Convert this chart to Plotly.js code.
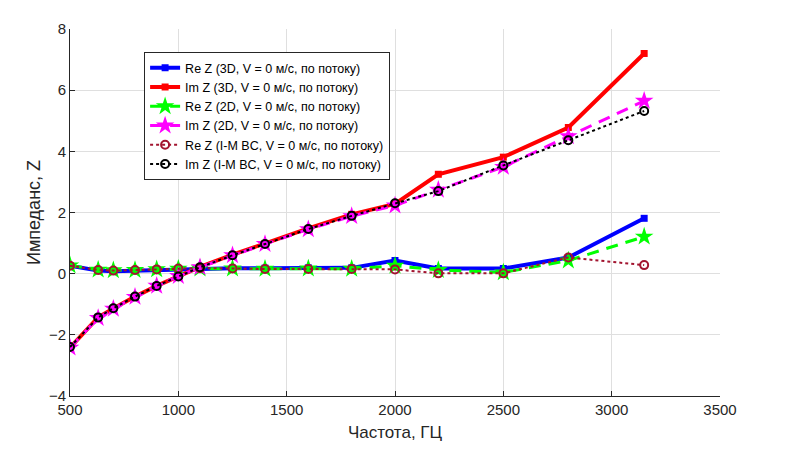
<!DOCTYPE html>
<html>
<head>
<meta charset="utf-8">
<script src="https://cdn.plot.ly/plotly-3.0.1.min.js"></script>
<style>html,body{margin:0;padding:0;background:#fff;}#chart{width:791px;height:454px;}</style>
</head>
<body>
<div id="chart"></div>
<script>
const freq = [500, 630, 700, 800, 900, 1000, 1100, 1250, 1400, 1600, 1800, 2000, 2200, 2500, 2800, 3150];
const reZ3D = [0.26, 0.10, 0.08, 0.10, 0.12, 0.15, 0.17, 0.18, 0.18, 0.19, 0.19, 0.43, 0.17, 0.17, 0.53, 1.81];
const imZ3D = [-2.42, -1.43, -1.14, -0.75, -0.40, -0.08, 0.22, 0.62, 0.99, 1.48, 1.94, 2.28, 3.25, 3.81, 4.78, 7.20];
const reZ2D = [0.27, 0.13, 0.11, 0.12, 0.14, 0.16, 0.17, 0.17, 0.16, 0.17, 0.16, 0.26, 0.12, 0.04, 0.43, 1.21];
const imZ2D = [-2.42, -1.45, -1.15, -0.76, -0.40, -0.08, 0.21, 0.60, 0.97, 1.45, 1.88, 2.23, 2.74, 3.49, 4.49, 5.65];
const reZIM = [0.26, 0.12, 0.10, 0.12, 0.14, 0.17, 0.18, 0.17, 0.15, 0.15, 0.15, 0.14, 0.01, 0.01, 0.53, 0.28];
const imZIM = [-2.40, -1.43, -1.13, -0.75, -0.40, -0.09, 0.21, 0.60, 0.97, 1.46, 1.89, 2.30, 2.70, 3.54, 4.36, 5.32];

const names = [
  'Re Z (3D, V = 0 м/с, по потоку)',
  'Im Z (3D, V = 0 м/с, по потоку)',
  'Re Z (2D, V = 0 м/с, по потоку)',
  'Im Z (2D, V = 0 м/с, по потоку)',
  'Re Z (I-M BC, V = 0 м/с, по потоку)',
  'Im Z (I-M BC, V = 0 м/с, по потоку)'
];

const traces = [
  {x: freq, y: reZ3D, name: names[0], mode: 'lines+markers',
   line: {color: '#0000ff', width: 4}, marker: {symbol: 'square', size: 7, color: '#0000ff'}},
  {x: freq, y: imZ3D, name: names[1], mode: 'lines+markers',
   line: {color: '#ff0000', width: 4}, marker: {symbol: 'square', size: 7, color: '#ff0000'}},
  {x: freq, y: reZ2D, name: names[2], mode: 'lines+markers',
   line: {color: '#00ff00', width: 3, dash: '12px,8px'}, marker: {symbol: 'star', size: 14, color: '#00ff00'}},
  {x: freq, y: imZ2D, name: names[3], mode: 'lines+markers',
   line: {color: '#ff00ff', width: 3, dash: '12px,8px'}, marker: {symbol: 'star', size: 14, color: '#ff00ff'}},
  {x: freq, y: reZIM, name: names[4], mode: 'lines+markers',
   line: {color: '#a2142f', width: 2, dash: 'dot'}, marker: {symbol: 'circle-open', size: 8, color: '#a2142f', line: {width: 2, color: '#a2142f'}}},
  {x: freq, y: imZIM, name: names[5], mode: 'lines+markers',
   line: {color: '#000000', width: 2, dash: 'dot'}, marker: {symbol: 'circle-open', size: 8, color: '#000000', line: {width: 2, color: '#000000'}}}
];

const fam = 'Liberation Sans, Arial, sans-serif';
const axisFont = {family: fam, size: 15, color: '#262626'};

const layout = {
  width: 791, height: 454,
  margin: {l: 70, r: 71, t: 29, b: 58},
  paper_bgcolor: '#ffffff', plot_bgcolor: '#ffffff',
  font: {family: fam, color: '#262626'},
  showlegend: true,
  legend: {
    x: 0.114, y: 0.937, xanchor: 'left', yanchor: 'top',
    bgcolor: '#ffffff', bordercolor: '#262626', borderwidth: 1,
    font: {family: fam, size: 12.5, color: '#000000'},
    itemwidth: 30, tracegroupgap: 0
  },
  xaxis: {
    range: [500, 3500], dtick: 500, tick0: 500,
    showline: true, linecolor: '#262626', linewidth: 1,
    ticks: 'inside', ticklen: 5, tickcolor: '#262626',
    showgrid: true, gridcolor: '#dfdfdf', zeroline: false,
    tickfont: axisFont,
    title: {text: 'Частота, ГЦ', font: {family: fam, size: 17, color: '#262626'}, standoff: 9}
  },
  yaxis: {
    range: [-4, 8], dtick: 2,
    showline: true, linecolor: '#262626', linewidth: 1,
    ticks: 'inside', ticklen: 5, tickcolor: '#262626',
    showgrid: true, gridcolor: '#dfdfdf', zeroline: false,
    tickfont: axisFont,
    title: {text: 'Импеданс, Z', font: {family: fam, size: 18, color: '#262626'}, standoff: 3}
  }
};

Plotly.newPlot('chart', traces, layout, {displayModeBar: false, staticPlot: true});
</script>
</body>
</html>
